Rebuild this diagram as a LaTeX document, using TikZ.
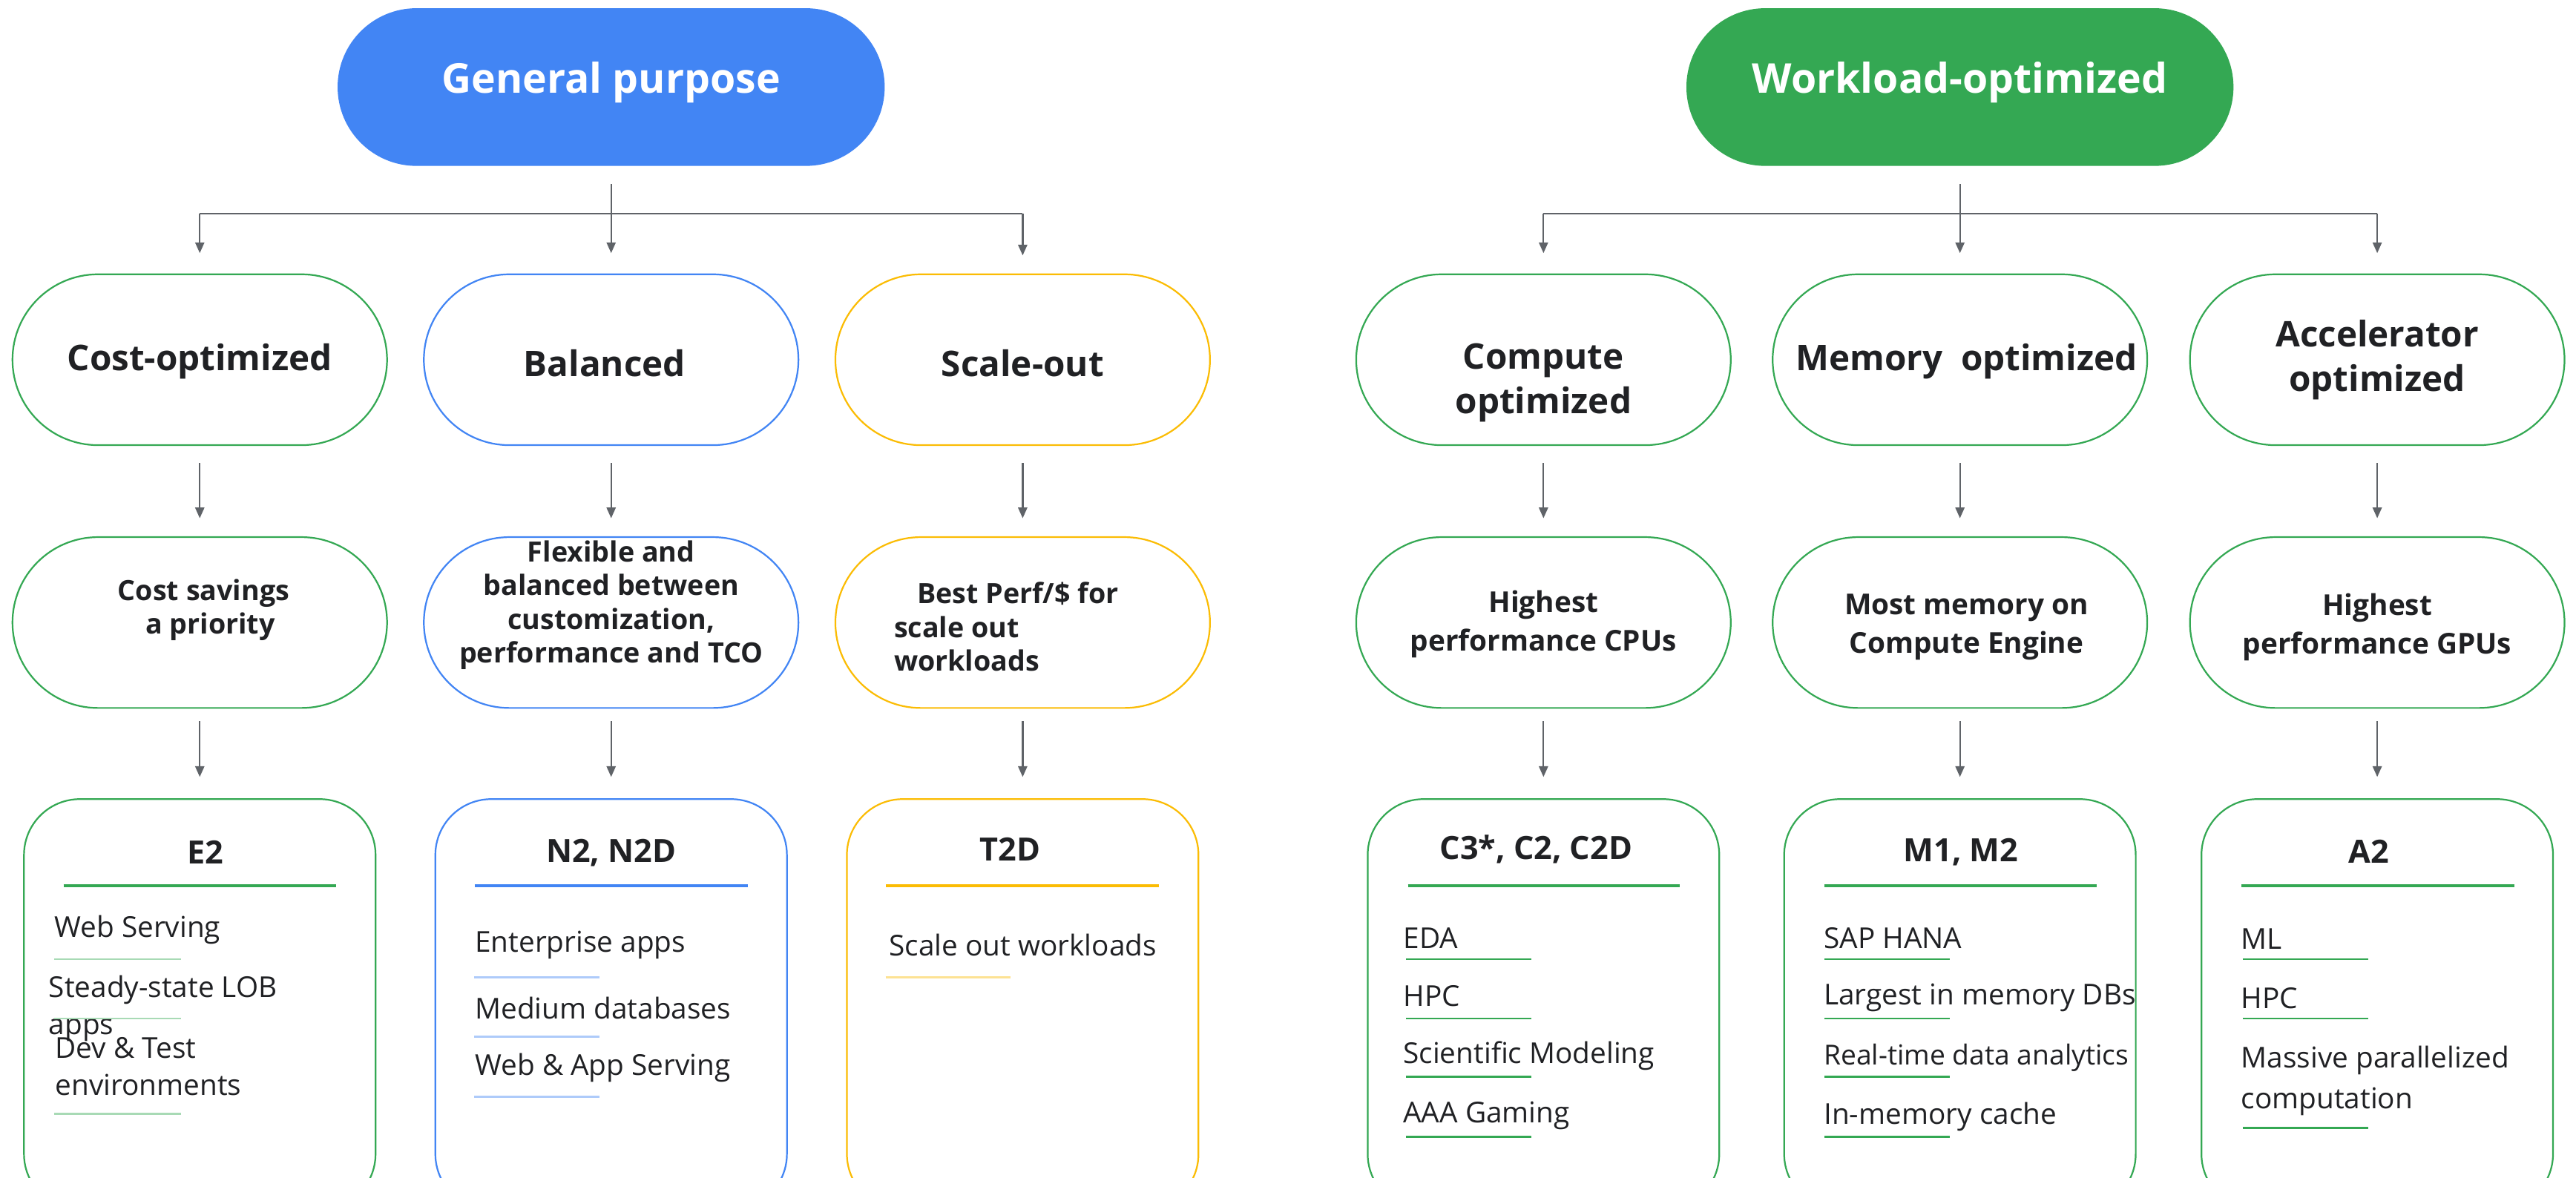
\documentclass[tikz,border=0pt]{standalone}
\usepackage{fontspec}
\setmainfont{Open Sans}
\usetikzlibrary{arrows.meta}
\definecolor{gblue}{HTML}{4285F4}
\definecolor{ggreen}{HTML}{34A853}
\definecolor{gyellow}{HTML}{FBBC04}
\definecolor{lblue}{HTML}{AECBFA}
\definecolor{lgreen}{HTML}{A8DAB5}
\definecolor{lyellow}{HTML}{FDE293}
\definecolor{gtext}{HTML}{202124}
\definecolor{ggray}{HTML}{5F6368}
\begin{document}
\begin{tikzpicture}[x=1pt,y=-1pt,
  toppill/.style={fill=#1, rounded corners=48pt, minimum width=333pt, minimum height=96pt, inner sep=0pt},
  toptext/.style={text=white, inner sep=0pt, font=\fontsize{25}{30}\selectfont\bfseries},
  pill/.style={draw=#1, line width=1pt, rounded corners=52pt, minimum width=228pt, minimum height=104pt, inner sep=0pt},
  card/.style={draw=#1, line width=1pt, rounded corners=34pt, minimum width=214pt, minimum height=250pt, inner sep=0pt, anchor=north},
  lvA/.style={text=gtext, inner sep=0pt, align=center, font=\fontsize{21.5}{27}\selectfont\bfseries},
  lvB/.style={text=gtext, inner sep=0pt, align=center, font=\fontsize{17}{20.5}\selectfont\bfseries},
  lvBr/.style={text=gtext, inner sep=0pt, align=center, font=\fontsize{17.5}{23.5}\selectfont\bfseries},
  hdr/.style={text=gtext, inner sep=0pt, font=\fontsize{19.5}{22}\selectfont\bfseries},
  item/.style={text=gtext, inner sep=0pt, anchor=west, align=left, font=\fontsize{17.5}{22.5}\selectfont},
  hline/.style={draw=#1, line width=1.6pt},
  uline/.style={draw=#1, line width=1.2pt},
  plain/.style={draw=ggray, line width=1pt},
  conn/.style={draw=ggray, line width=1pt, -{Triangle[length=6.5pt,width=5.5pt]}}
]
\clip (0,0) rectangle (1568,717);
\fill[white] (0,0) rectangle (1568,717);

% ---------- top pills
\node[toppill=gblue] (gp) at (372,53) {};
\node[toptext] (gpT) at (372,50) {General purpose};
\node[toppill=ggreen] (wo) at (1193,53) {};
\node[toptext] (woT) at (1193,50) {Workload-optimized};

% ---------- level 1
\node[pill=ggreen] (cost) at (121.6,219) {};
\node[pill=gblue] (bal) at (372,219) {};
\node[pill=gyellow] (scl) at (622.5,219) {};
\node[pill=ggreen] (cmp) at (939.5,219) {};
\node[pill=ggreen] (mem) at (1193,219) {};
\node[pill=ggreen] (acc) at (1447,219) {};
\node[lvA] (costT) at (121.6,220) {Cost-optimized};
\node[lvA] (balT) at (368,221) {Balanced};
\node[lvA] (sclT) at (622.5,221) {Scale-out};
\node[lvA] (cmpT) at (939.5,233) {Compute\\optimized};
\node[lvA] (memT) at (1197,220) {Memory\ \ optimized};
\node[lvA] (accT) at (1447,219) {Accelerator\\optimized};

% ---------- level 2
\node[pill=ggreen] (costD) at (121.6,379) {};
\node[pill=gblue] (balD) at (372,379) {};
\node[pill=gyellow] (sclD) at (622.5,379) {};
\node[pill=ggreen] (cmpD) at (939.5,379) {};
\node[pill=ggreen] (memD) at (1193,379) {};
\node[pill=ggreen] (accD) at (1447,379) {};
\node[lvB] (costDT) at (124,371.3) {Cost savings\\\hspace{8pt}a priority};
\node[lvB] (balDT) at (372,368.4) {Flexible and\\balanced between\\customization,\\performance and TCO};
\node[lvB, align=left, anchor=west] (sclDT) at (544,381.6) {\hspace{14pt}Best Perf/\$ for\\scale out\\workloads};
\node[lvBr] (cmpDT) at (939.5,380) {Highest\\performance CPUs};
\node[lvBr] (memDT) at (1197,381.8) {Most memory on\\Compute Engine};
\node[lvBr] (accDT) at (1447,382) {Highest\\performance GPUs};

% ---------- level 3 cards
\node[card=ggreen] (e2) at (121.6,486) {};
\node[card=gblue] (n2) at (372,486) {};
\node[card=gyellow] (t2d) at (622.5,486) {};
\node[card=ggreen] (c3) at (939.5,486) {};
\node[card=ggreen] (m1) at (1193,486) {};
\node[card=ggreen] (a2) at (1447,486) {};

\node[hdr] (e2H) at (125,519) {E2};
\node[hdr] (n2H) at (372,519) {N2, N2D};
\node[hdr] (t2dH) at (615,517) {T2D};
\node[hdr] (c3H) at (935,517) {C3*, C2, C2D};
\node[hdr] (m1H) at (1193.6,518.6) {M1, M2};
\node[hdr] (a2H) at (1442,518.6) {A2};

\draw[hline=ggreen] (38.7,539.2) -- (204.8,539.2);
\draw[hline=gblue] (289,539.2) -- (455,539.2);
\draw[hline=gyellow] (539.4,539.2) -- (705.4,539.2);
\draw[hline=ggreen] (857,539.2) -- (1022.5,539.2);
\draw[hline=ggreen] (1110.6,539.2) -- (1276.2,539.2);
\draw[hline=ggreen] (1364.3,539.2) -- (1530.4,539.2);

% E2 items
\node[item] (e2a) at (33,566) {Web Serving};
\node[item] (e2b) at (29.5,613.8) {Steady-state LOB\\apps};
\node[item] (e2c) at (33.5,649.3) {Dev \& Test\\environments};
\draw[uline=lgreen] (33,584) -- (110,584);
\draw[uline=lgreen] (33,620) -- (110,620);
\draw[uline=lgreen] (33,678) -- (110,678);

% N2 items
\node[item] (n2a) at (289,575.5) {Enterprise apps};
\node[item] (n2b) at (289,613.5) {Medium databases};
\node[item] (n2c) at (289,650) {Web \& App Serving};
\draw[uline=lblue] (288.6,595) -- (365,595);
\draw[uline=lblue] (288.6,631) -- (365,631);
\draw[uline=lblue] (288.6,667.6) -- (365,667.6);

% T2D items
\node[item] (t2a) at (541,575.5) {Scale out workloads};
\draw[uline=lyellow] (539,595) -- (615,595);

% C3 items
\node[item] (c3a) at (854,571) {EDA};
\node[item] (c3b) at (854,606.5) {HPC};
\node[item] (c3c) at (854,642.7) {Scientific Modeling};
\node[item] (c3d) at (854,679) {AAA Gaming};
\draw[uline=ggreen] (856,584) -- (932,584);
\draw[uline=ggreen] (856,620) -- (932,620);
\draw[uline=ggreen] (856,655.6) -- (932,655.6);
\draw[uline=ggreen] (856,692) -- (932,692);

% M1 items
\node[item] (m1a) at (1110,571) {SAP HANA};
\node[item] (m1b) at (1110,607.5) {Largest in memory DBs};
\node[item, font=\fontsize{16.8}{22.5}\selectfont] (m1c) at (1110,644) {Real-time data analytics};
\node[item] (m1d) at (1110,680) {In-memory cache};
\draw[uline=ggreen] (1110.5,584) -- (1186.6,584);
\draw[uline=ggreen] (1110.5,620) -- (1186.6,620);
\draw[uline=ggreen] (1110.5,655.6) -- (1186.6,655.6);
\draw[uline=ggreen] (1110.5,692) -- (1186.6,692);

% A2 items
\node[item] (a2a) at (1364,571.6) {ML};
\node[item] (a2b) at (1364,607.5) {HPC};
\node[item, font=\fontsize{17.5}{25}\selectfont] (a2c) at (1364,658) {Massive parallelized\\computation};
\draw[uline=ggreen] (1365,584) -- (1441.6,584);
\draw[uline=ggreen] (1365,620) -- (1441.6,620);
\draw[uline=ggreen] (1365,686.6) -- (1441.6,686.6);

% ---------- connectors
\coordinate (jL) at (372,130);
\coordinate (jR) at (1193,130);
\draw[plain] (cost.north |- jL) -- (scl.north |- jL);
\draw[conn, shorten <=11pt, shorten >=12.4pt] (gp.south) -- (bal.north);
\draw[conn, shorten >=12.4pt] (cost.north |- jL) -- (cost.north);
\draw[conn, shorten >=11pt] (scl.north |- jL) -- (scl.north);
\draw[plain] (cmp.north |- jR) -- (acc.north |- jR);
\draw[conn, shorten <=11pt, shorten >=12.4pt] (wo.south) -- (mem.north);
\draw[conn, shorten >=12.4pt] (cmp.north |- jR) -- (cmp.north);
\draw[conn, shorten >=12.4pt] (acc.north |- jR) -- (acc.north);

\foreach \a/\b in {cost/costD, bal/balD, scl/sclD, cmp/cmpD, mem/memD, acc/accD}
  \draw[conn, shorten <=10.5pt, shorten >=11pt] (\a.south) -- (\b.north);
\foreach \a/\b in {costD/e2, balD/n2, sclD/t2d, cmpD/c3, memD/m1, accD/a2}
  \draw[conn, shorten <=7.5pt, shorten >=13pt] (\a.south) -- (\b.north);
\end{tikzpicture}
\end{document}
